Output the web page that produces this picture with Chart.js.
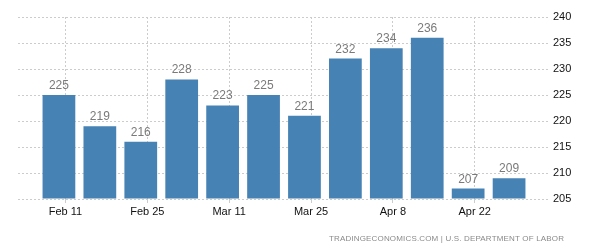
<!DOCTYPE html>
<html>
<head>
<meta charset="utf-8">
<script src="https://cdn.jsdelivr.net/npm/chart.js@4.4.1/dist/chart.umd.min.js"></script>
<style>
  html, body { margin: 0; padding: 0; background: #fff; }
  #wrap { width: 600px; height: 250px; position: relative; }
</style>
</head>
<body>
<div id="wrap"><canvas id="claims"></canvas></div>
<script>
// weekly initial jobless claims (thousands)
const weeks = [0, 1, 2, 3, 4, 5, 6, 7, 8, 9, 10, 11];
const claims = [225, 219, 216, 228, 223, 225, 221, 232, 234, 236, 207, 209];

// date ticks on the x axis (in weeks, slightly after the bar centres)
const tickWeeks = [0.16, 2.16, 4.16, 6.16, 8.16, 10.16];
const tickLabels = ["Feb 11", "Feb 25", "Mar 11", "Mar 25", "Apr 8", "Apr 22"];

// value axis
const yMin = 205, yMax = 240, yStep = 5;

const sourceText = "TRADINGECONOMICS.COM | U.S. DEPARTMENT OF LABOR";

const FONT = "'Liberation Sans', Arial, sans-serif";

// numbers above each bar
const valueLabels = {
    id: "valueLabels",
    afterDatasetsDraw(chart) {
        const ctx = chart.ctx;
        const meta = chart.getDatasetMeta(0);
        ctx.save();
        ctx.font = "12px " + FONT;
        ctx.fillStyle = "#7a7a7a";
        ctx.textAlign = "center";
        ctx.textBaseline = "alphabetic";
        meta.data.forEach((bar, i) => {
            ctx.fillText(String(claims[i]), bar.x, bar.y - 6);
        });
        ctx.restore();
    }
};

// source line at the bottom right, spread to the reference width
const sourceLine = {
    id: "sourceLine",
    afterDraw(chart) {
        const ctx = chart.ctx;
        const left = 329, right = 564;
        ctx.save();
        ctx.font = "8px " + FONT;
        ctx.fillStyle = "#8a8a8a";
        ctx.textAlign = "left";
        ctx.textBaseline = "alphabetic";
        const w = ctx.measureText(sourceText).width;
        if ("letterSpacing" in ctx) {
            const sp = Math.max(0, (right - left - w) / (sourceText.length - 1));
            ctx.letterSpacing = sp.toFixed(2) + "px";
        }
        ctx.fillText(sourceText, left, 241);
        ctx.restore();
    }
};

new Chart(document.getElementById("claims"), {
    type: "bar",
    plugins: [valueLabels, sourceLine],
    data: {
        datasets: [{
            data: weeks.map((w, i) => ({ x: w, y: claims[i] })),
            backgroundColor: "#4682b4",
            borderWidth: 0,
            barPercentage: 0.8,
            categoryPercentage: 1.0,
            base: yMin
        }]
    },
    options: {
        responsive: true,
        maintainAspectRatio: false,
        animation: false,
        layout: { padding: { left: 18, right: 0, top: 17, bottom: 31 } },
        plugins: {
            legend: { display: false },
            tooltip: { enabled: false }
        },
        scales: {
            x: {
                type: "linear",
                min: -1,
                max: 12,
                offset: false,
                afterBuildTicks(scale) {
                    scale.ticks = tickWeeks.map(v => ({ value: v }));
                },
                afterFit(scale) { scale.height = 20; },
                ticks: {
                    autoSkip: false,
                    maxRotation: 0,
                    padding: 2,
                    color: "#111",
                    font: { family: FONT, size: 11 },
                    callback: (v) => {
                        const k = tickWeeks.indexOf(v);
                        return k >= 0 ? tickLabels[k] : "";
                    }
                },
                grid: {
                    offset: false,
                    color: "#cccccc",
                    lineWidth: 1,
                    drawTicks: true,
                    tickLength: 4,
                    tickColor: "#cccccc"
                },
                border: { display: false, dash: [2, 2] }
            },
            y: {
                position: "right",
                min: yMin,
                max: yMax,
                afterFit(scale) { scale.width = 50; },
                ticks: {
                    stepSize: yStep,
                    padding: 3,
                    color: "#111",
                    font: { family: FONT, size: 11 }
                },
                grid: {
                    color: "#cccccc",
                    lineWidth: 1,
                    drawTicks: false
                },
                border: { display: false, dash: [2, 2] }
            }
        }
    }
});
</script>
</body>
</html>
